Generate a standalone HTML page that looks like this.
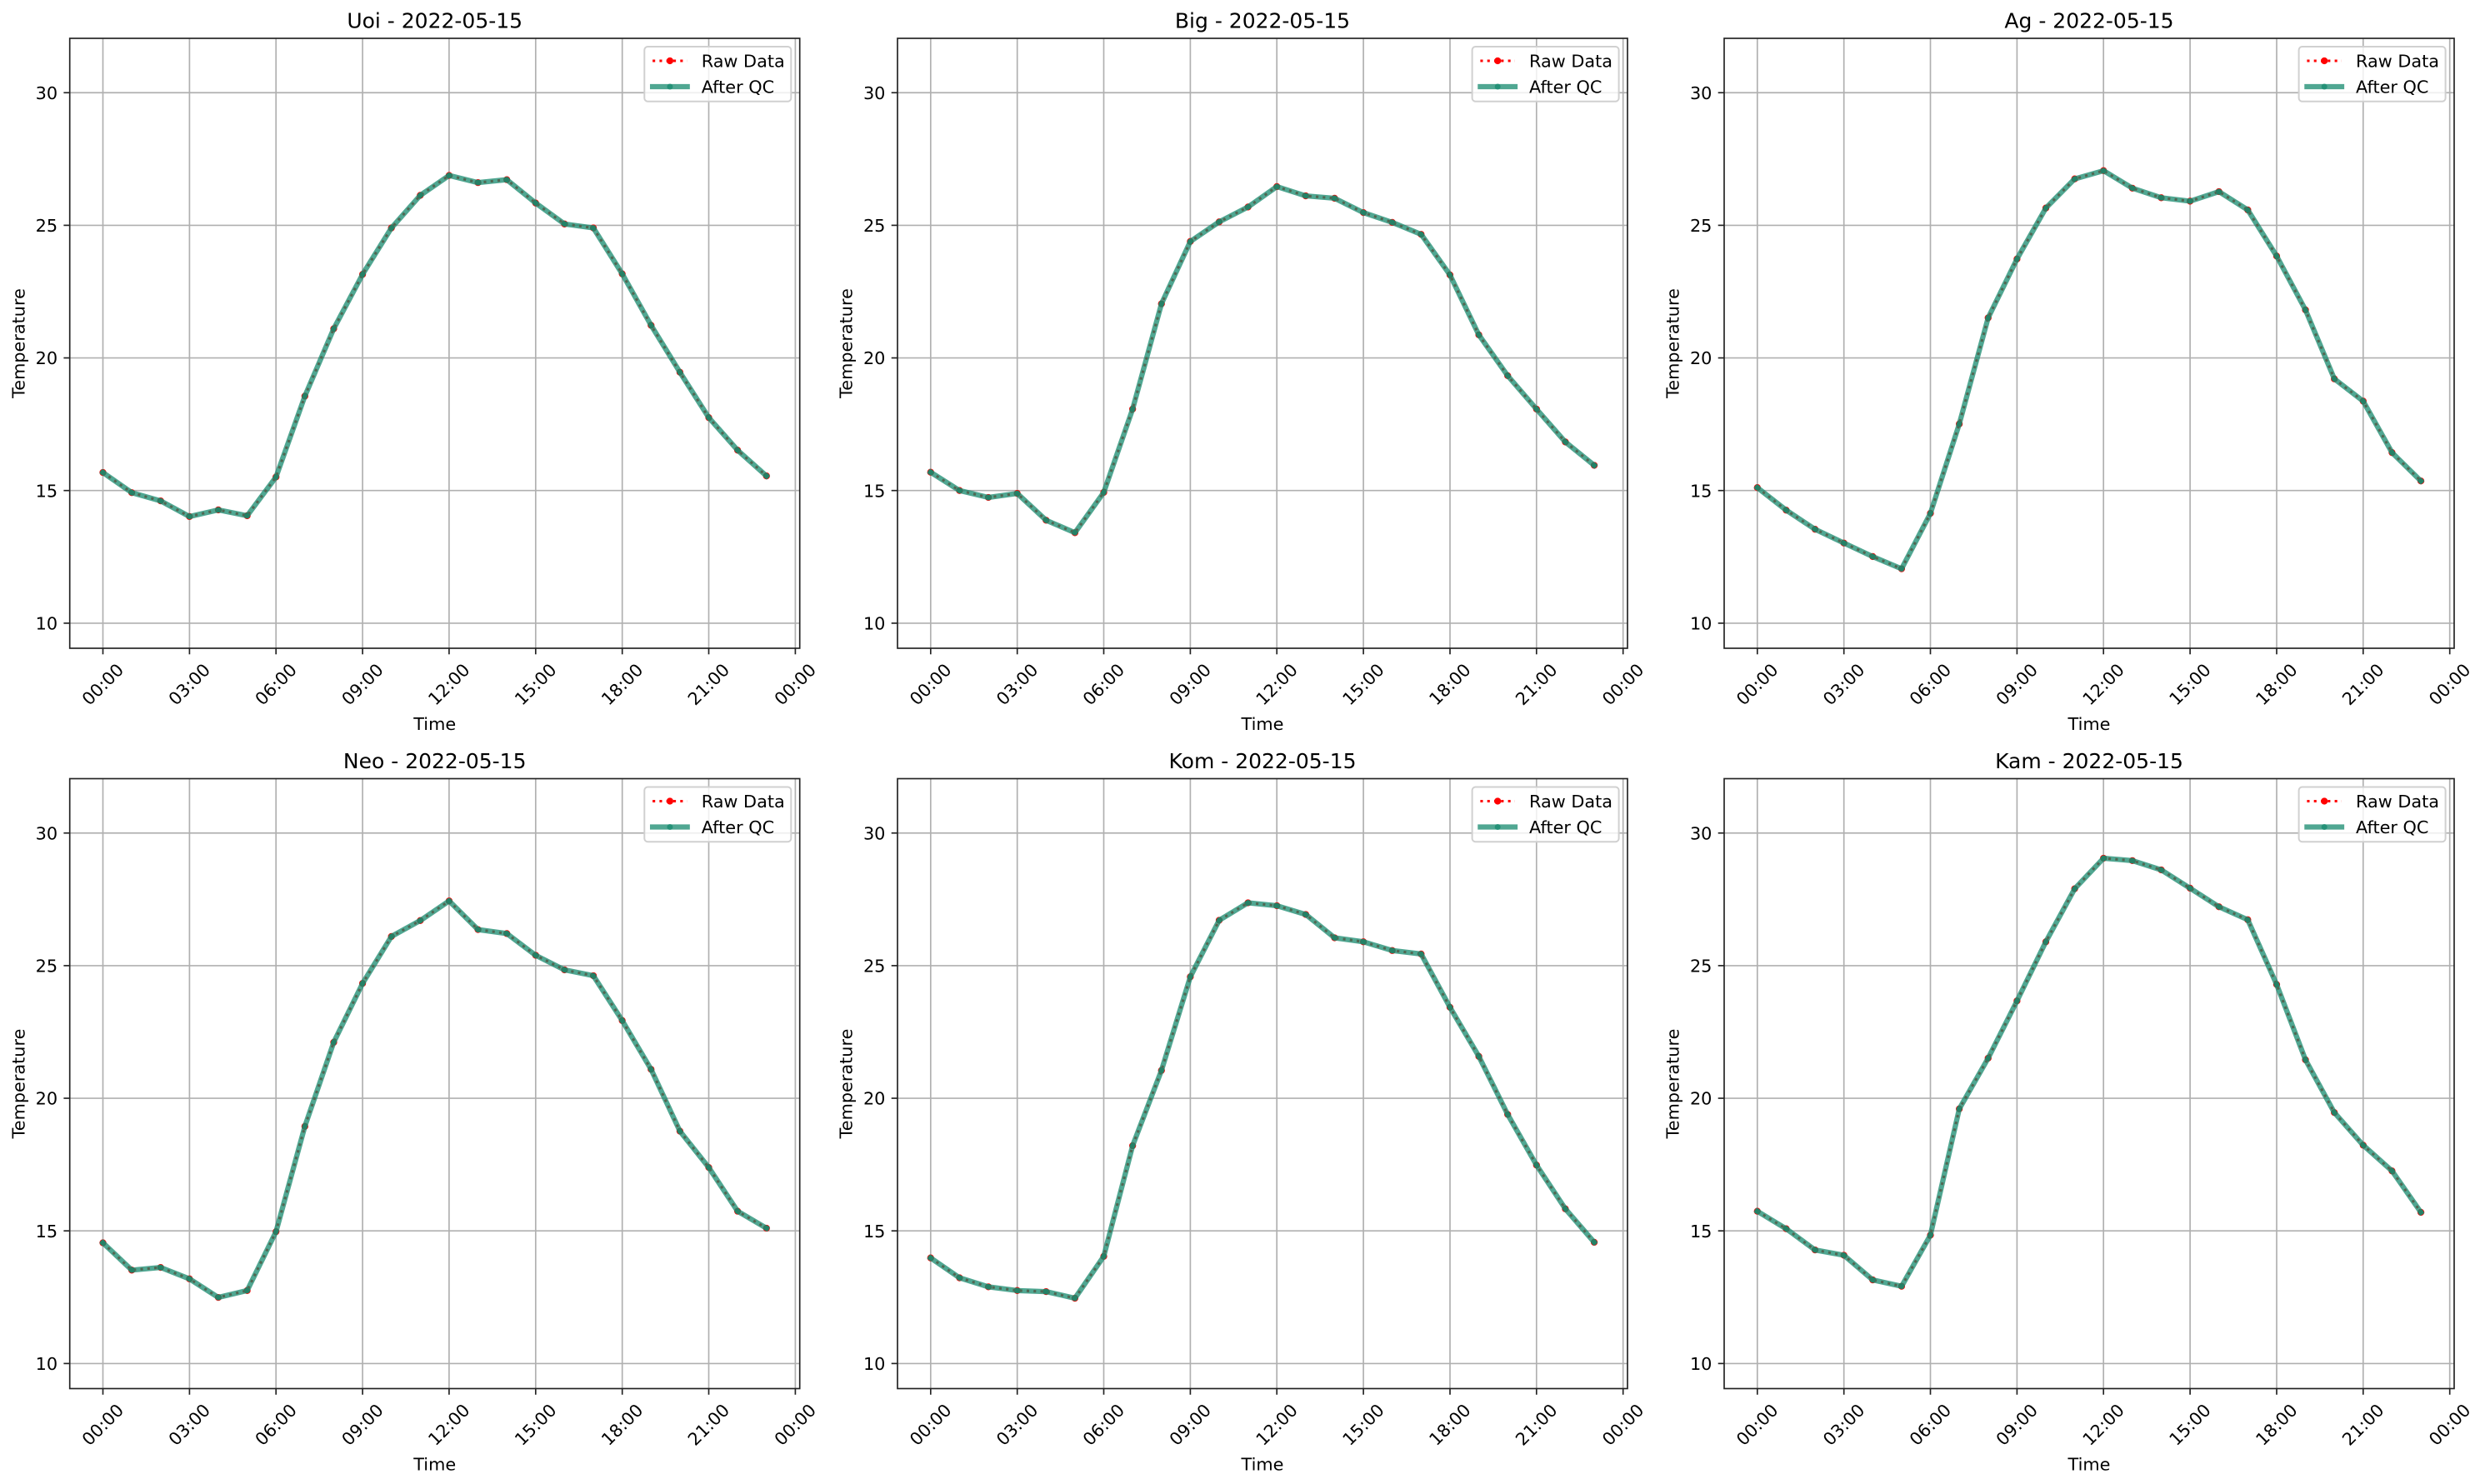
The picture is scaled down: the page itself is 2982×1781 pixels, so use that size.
<!DOCTYPE html>
<html>
<head>
<meta charset="utf-8">
<style>
  html, body { margin: 0; padding: 0; background: #ffffff; }
  svg { display: block; }
  text { font-family: "DejaVu Sans", "Liberation Sans", sans-serif; fill: #000; }
  .grid line { stroke: #b0b0b0; stroke-width: 1.67; }
  .spine { fill: none; stroke: #222; stroke-width: 1.67; }
  .tick line { stroke: #222; stroke-width: 1.67; }
  .raw { fill: none; stroke: #ff0000; stroke-width: 3.1; stroke-dasharray: 3.1 5.2; vector-effect: non-scaling-stroke; }
  .rawm { fill: none; stroke: #ff0000; stroke-width: 8.3; stroke-linecap: round; vector-effect: non-scaling-stroke; }
  .qc { fill: none; stroke: #168a6e; stroke-opacity: .75; stroke-width: 6.25; stroke-linejoin: round; stroke-linecap: square; vector-effect: non-scaling-stroke; }
  .qcm { fill: none; stroke: #168a6e; stroke-opacity: .75; stroke-width: 7; stroke-linecap: round; vector-effect: non-scaling-stroke; }
  .title { font-size: 25px; text-anchor: middle; }
  .yt { font-size: 20.8px; text-anchor: end; }
  .xt { font-size: 20.8px; text-anchor: middle; dominant-baseline: central; }
  .lab { font-size: 20.8px; text-anchor: middle; }
  .leg { font-size: 20.8px; }
</style>
</head>
<body>
<svg width="2982" height="1781" viewBox="0 0 2982 1781" xmlns="http://www.w3.org/2000/svg">
<defs>
  <g id="grid" class="grid">
    <line x1="39.8" y1="0" x2="39.8" y2="732"/>
    <line x1="143.7" y1="0" x2="143.7" y2="732"/>
    <line x1="247.5" y1="0" x2="247.5" y2="732"/>
    <line x1="351.4" y1="0" x2="351.4" y2="732"/>
    <line x1="455.2" y1="0" x2="455.2" y2="732"/>
    <line x1="559.1" y1="0" x2="559.1" y2="732"/>
    <line x1="663.0" y1="0" x2="663.0" y2="732"/>
    <line x1="766.8" y1="0" x2="766.8" y2="732"/>
    <line x1="870.7" y1="0" x2="870.7" y2="732"/>
    <line x1="0" y1="65.25" x2="876" y2="65.25"/>
    <line x1="0" y1="224.4" x2="876" y2="224.4"/>
    <line x1="0" y1="383.55" x2="876" y2="383.55"/>
    <line x1="0" y1="542.7" x2="876" y2="542.7"/>
    <line x1="0" y1="701.9" x2="876" y2="701.9"/>
  </g>
  <g id="axes">
    <rect class="spine" x="0" y="0" width="876" height="732"/>
    <g class="tick">
      <line x1="39.8" y1="732" x2="39.8" y2="739.3"/>
      <line x1="143.7" y1="732" x2="143.7" y2="739.3"/>
      <line x1="247.5" y1="732" x2="247.5" y2="739.3"/>
      <line x1="351.4" y1="732" x2="351.4" y2="739.3"/>
      <line x1="455.2" y1="732" x2="455.2" y2="739.3"/>
      <line x1="559.1" y1="732" x2="559.1" y2="739.3"/>
      <line x1="663.0" y1="732" x2="663.0" y2="739.3"/>
      <line x1="766.8" y1="732" x2="766.8" y2="739.3"/>
      <line x1="870.7" y1="732" x2="870.7" y2="739.3"/>
      <line x1="-7.3" y1="65.25" x2="0" y2="65.25"/>
      <line x1="-7.3" y1="224.4" x2="0" y2="224.4"/>
      <line x1="-7.3" y1="383.55" x2="0" y2="383.55"/>
      <line x1="-7.3" y1="542.7" x2="0" y2="542.7"/>
      <line x1="-7.3" y1="701.9" x2="0" y2="701.9"/>
    </g>
  </g>
  <g id="legbox">
    <rect x="689.6" y="10" width="176" height="65.7" rx="4" ry="4" fill="#ffffff" fill-opacity="0.8" stroke="#d0d0d0" stroke-width="2"/>
    <line x1="699.4" y1="27" x2="741" y2="27" stroke="#ff0000" stroke-width="3.1" stroke-dasharray="3.1 5.2"/>
    <circle cx="720.2" cy="27" r="4.15" fill="#ff0000"/>
    <line x1="699.4" y1="58" x2="741" y2="58" stroke="#168a6e" stroke-opacity="0.75" stroke-width="6.25" stroke-linecap="square"/>
    <circle cx="720.2" cy="58" r="3.5" fill="#168a6e" fill-opacity="0.75"/>
  </g>
</defs>

<!-- Panel 1: Uoi -->
<g transform="translate(83.7,46)">
  <use href="#grid"/>
  <g transform="translate(39.8,0) scale(34.62,-31.83) translate(0,-32.05)">
    <polyline class="raw" points="0,15.68 1,14.92 2,14.61 3,14.02 4,14.27 5,14.05 6,15.51 7,18.56 8,21.10 9,23.15 10,24.90 11,26.13 12,26.88 13,26.61 14,26.72 15,25.84 16,25.05 17,24.90 18,23.17 19,21.23 20,19.46 21,17.75 22,16.52 23,15.55"/>
    <path class="rawm" d="M0 15.68h0M1 14.92h0M2 14.61h0M3 14.02h0M4 14.27h0M5 14.05h0M6 15.51h0M7 18.56h0M8 21.10h0M9 23.15h0M10 24.90h0M11 26.13h0M12 26.88h0M13 26.61h0M14 26.72h0M15 25.84h0M16 25.05h0M17 24.90h0M18 23.17h0M19 21.23h0M20 19.46h0M21 17.75h0M22 16.52h0M23 15.55h0"/>
    <polyline class="qc" points="0,15.68 1,14.92 2,14.61 3,14.02 4,14.27 5,14.05 6,15.51 7,18.56 8,21.10 9,23.15 10,24.90 11,26.13 12,26.88 13,26.61 14,26.72 15,25.84 16,25.05 17,24.90 18,23.17 19,21.23 20,19.46 21,17.75 22,16.52 23,15.55"/>
    <path class="qcm" d="M0 15.68h0M1 14.92h0M2 14.61h0M3 14.02h0M4 14.27h0M5 14.05h0M6 15.51h0M7 18.56h0M8 21.10h0M9 23.15h0M10 24.90h0M11 26.13h0M12 26.88h0M13 26.61h0M14 26.72h0M15 25.84h0M16 25.05h0M17 24.90h0M18 23.17h0M19 21.23h0M20 19.46h0M21 17.75h0M22 16.52h0M23 15.55h0"/>
  </g>
  <use href="#axes"/>
  <use href="#legbox"/>
  <text class="leg" x="758" y="34.7">Raw Data</text>
  <text class="leg" x="758" y="65.5">After QC</text>
  <text class="title" x="438" y="-12.5">Uoi - 2022-05-15</text>
  <text class="yt" x="-14.6" y="72.85">30</text>
  <text class="yt" x="-14.6" y="232">25</text>
  <text class="yt" x="-14.6" y="391.15">20</text>
  <text class="yt" x="-14.6" y="550.3">15</text>
  <text class="yt" x="-14.6" y="709.5">10</text>
  <text class="xt" transform="translate(39.8,775.5) rotate(-45)">00:00</text>
  <text class="xt" transform="translate(143.7,775.5) rotate(-45)">03:00</text>
  <text class="xt" transform="translate(247.5,775.5) rotate(-45)">06:00</text>
  <text class="xt" transform="translate(351.4,775.5) rotate(-45)">09:00</text>
  <text class="xt" transform="translate(455.2,775.5) rotate(-45)">12:00</text>
  <text class="xt" transform="translate(559.1,775.5) rotate(-45)">15:00</text>
  <text class="xt" transform="translate(663.0,775.5) rotate(-45)">18:00</text>
  <text class="xt" transform="translate(766.8,775.5) rotate(-45)">21:00</text>
  <text class="xt" transform="translate(870.7,775.5) rotate(-45)">00:00</text>
  <text class="lab" x="438" y="830">Time</text>
  <text class="lab" transform="translate(-54.4,366) rotate(-90)">Temperature</text>
</g>

<!-- Panel 2: Big -->
<g transform="translate(1077,46)">
  <use href="#grid"/>
  <g transform="translate(39.8,0) scale(34.62,-31.83) translate(0,-32.05)">
    <polyline class="raw" points="0,15.69 1,15.00 2,14.74 3,14.89 4,13.88 5,13.41 6,14.93 7,18.07 8,22.04 9,24.39 10,25.13 11,25.69 12,26.46 13,26.11 14,26.02 15,25.48 16,25.11 17,24.66 18,23.13 19,20.87 20,19.33 21,18.07 22,16.83 23,15.95"/>
    <path class="rawm" d="M0 15.69h0M1 15.00h0M2 14.74h0M3 14.89h0M4 13.88h0M5 13.41h0M6 14.93h0M7 18.07h0M8 22.04h0M9 24.39h0M10 25.13h0M11 25.69h0M12 26.46h0M13 26.11h0M14 26.02h0M15 25.48h0M16 25.11h0M17 24.66h0M18 23.13h0M19 20.87h0M20 19.33h0M21 18.07h0M22 16.83h0M23 15.95h0"/>
    <polyline class="qc" points="0,15.69 1,15.00 2,14.74 3,14.89 4,13.88 5,13.41 6,14.93 7,18.07 8,22.04 9,24.39 10,25.13 11,25.69 12,26.46 13,26.11 14,26.02 15,25.48 16,25.11 17,24.66 18,23.13 19,20.87 20,19.33 21,18.07 22,16.83 23,15.95"/>
    <path class="qcm" d="M0 15.69h0M1 15.00h0M2 14.74h0M3 14.89h0M4 13.88h0M5 13.41h0M6 14.93h0M7 18.07h0M8 22.04h0M9 24.39h0M10 25.13h0M11 25.69h0M12 26.46h0M13 26.11h0M14 26.02h0M15 25.48h0M16 25.11h0M17 24.66h0M18 23.13h0M19 20.87h0M20 19.33h0M21 18.07h0M22 16.83h0M23 15.95h0"/>
  </g>
  <use href="#axes"/>
  <use href="#legbox"/>
  <text class="leg" x="758" y="34.7">Raw Data</text>
  <text class="leg" x="758" y="65.5">After QC</text>
  <text class="title" x="438" y="-12.5">Big - 2022-05-15</text>
  <text class="yt" x="-14.6" y="72.85">30</text>
  <text class="yt" x="-14.6" y="232">25</text>
  <text class="yt" x="-14.6" y="391.15">20</text>
  <text class="yt" x="-14.6" y="550.3">15</text>
  <text class="yt" x="-14.6" y="709.5">10</text>
  <text class="xt" transform="translate(39.8,775.5) rotate(-45)">00:00</text>
  <text class="xt" transform="translate(143.7,775.5) rotate(-45)">03:00</text>
  <text class="xt" transform="translate(247.5,775.5) rotate(-45)">06:00</text>
  <text class="xt" transform="translate(351.4,775.5) rotate(-45)">09:00</text>
  <text class="xt" transform="translate(455.2,775.5) rotate(-45)">12:00</text>
  <text class="xt" transform="translate(559.1,775.5) rotate(-45)">15:00</text>
  <text class="xt" transform="translate(663.0,775.5) rotate(-45)">18:00</text>
  <text class="xt" transform="translate(766.8,775.5) rotate(-45)">21:00</text>
  <text class="xt" transform="translate(870.7,775.5) rotate(-45)">00:00</text>
  <text class="lab" x="438" y="830">Time</text>
  <text class="lab" transform="translate(-54.4,366) rotate(-90)">Temperature</text>
</g>

<!-- Panel 3: Ag -->
<g transform="translate(2069,46)">
  <use href="#grid"/>
  <g transform="translate(39.8,0) scale(34.62,-31.83) translate(0,-32.05)">
    <polyline class="raw" points="0,15.11 1,14.26 2,13.54 3,13.02 4,12.51 5,12.05 6,14.14 7,17.51 8,21.51 9,23.73 10,25.65 11,26.75 12,27.06 13,26.40 14,26.04 15,25.91 16,26.27 17,25.58 18,23.84 19,21.81 20,19.21 21,18.37 22,16.43 23,15.36"/>
    <path class="rawm" d="M0 15.11h0M1 14.26h0M2 13.54h0M3 13.02h0M4 12.51h0M5 12.05h0M6 14.14h0M7 17.51h0M8 21.51h0M9 23.73h0M10 25.65h0M11 26.75h0M12 27.06h0M13 26.40h0M14 26.04h0M15 25.91h0M16 26.27h0M17 25.58h0M18 23.84h0M19 21.81h0M20 19.21h0M21 18.37h0M22 16.43h0M23 15.36h0"/>
    <polyline class="qc" points="0,15.11 1,14.26 2,13.54 3,13.02 4,12.51 5,12.05 6,14.14 7,17.51 8,21.51 9,23.73 10,25.65 11,26.75 12,27.06 13,26.40 14,26.04 15,25.91 16,26.27 17,25.58 18,23.84 19,21.81 20,19.21 21,18.37 22,16.43 23,15.36"/>
    <path class="qcm" d="M0 15.11h0M1 14.26h0M2 13.54h0M3 13.02h0M4 12.51h0M5 12.05h0M6 14.14h0M7 17.51h0M8 21.51h0M9 23.73h0M10 25.65h0M11 26.75h0M12 27.06h0M13 26.40h0M14 26.04h0M15 25.91h0M16 26.27h0M17 25.58h0M18 23.84h0M19 21.81h0M20 19.21h0M21 18.37h0M22 16.43h0M23 15.36h0"/>
  </g>
  <use href="#axes"/>
  <use href="#legbox"/>
  <text class="leg" x="758" y="34.7">Raw Data</text>
  <text class="leg" x="758" y="65.5">After QC</text>
  <text class="title" x="438" y="-12.5">Ag - 2022-05-15</text>
  <text class="yt" x="-14.6" y="72.85">30</text>
  <text class="yt" x="-14.6" y="232">25</text>
  <text class="yt" x="-14.6" y="391.15">20</text>
  <text class="yt" x="-14.6" y="550.3">15</text>
  <text class="yt" x="-14.6" y="709.5">10</text>
  <text class="xt" transform="translate(39.8,775.5) rotate(-45)">00:00</text>
  <text class="xt" transform="translate(143.7,775.5) rotate(-45)">03:00</text>
  <text class="xt" transform="translate(247.5,775.5) rotate(-45)">06:00</text>
  <text class="xt" transform="translate(351.4,775.5) rotate(-45)">09:00</text>
  <text class="xt" transform="translate(455.2,775.5) rotate(-45)">12:00</text>
  <text class="xt" transform="translate(559.1,775.5) rotate(-45)">15:00</text>
  <text class="xt" transform="translate(663.0,775.5) rotate(-45)">18:00</text>
  <text class="xt" transform="translate(766.8,775.5) rotate(-45)">21:00</text>
  <text class="xt" transform="translate(870.7,775.5) rotate(-45)">00:00</text>
  <text class="lab" x="438" y="830">Time</text>
  <text class="lab" transform="translate(-54.4,366) rotate(-90)">Temperature</text>
</g>

<!-- Panel 4: Neo -->
<g transform="translate(83.7,934.5)">
  <use href="#grid"/>
  <g transform="translate(39.8,0) scale(34.62,-31.83) translate(0,-32.05)">
    <polyline class="raw" points="0,14.55 1,13.52 2,13.62 3,13.19 4,12.49 5,12.75 6,14.97 7,18.94 8,22.11 9,24.33 10,26.10 11,26.70 12,27.44 13,26.36 14,26.21 15,25.39 16,24.84 17,24.62 18,22.93 19,21.09 20,18.76 21,17.39 22,15.74 23,15.10"/>
    <path class="rawm" d="M0 14.55h0M1 13.52h0M2 13.62h0M3 13.19h0M4 12.49h0M5 12.75h0M6 14.97h0M7 18.94h0M8 22.11h0M9 24.33h0M10 26.10h0M11 26.70h0M12 27.44h0M13 26.36h0M14 26.21h0M15 25.39h0M16 24.84h0M17 24.62h0M18 22.93h0M19 21.09h0M20 18.76h0M21 17.39h0M22 15.74h0M23 15.10h0"/>
    <polyline class="qc" points="0,14.55 1,13.52 2,13.62 3,13.19 4,12.49 5,12.75 6,14.97 7,18.94 8,22.11 9,24.33 10,26.10 11,26.70 12,27.44 13,26.36 14,26.21 15,25.39 16,24.84 17,24.62 18,22.93 19,21.09 20,18.76 21,17.39 22,15.74 23,15.10"/>
    <path class="qcm" d="M0 14.55h0M1 13.52h0M2 13.62h0M3 13.19h0M4 12.49h0M5 12.75h0M6 14.97h0M7 18.94h0M8 22.11h0M9 24.33h0M10 26.10h0M11 26.70h0M12 27.44h0M13 26.36h0M14 26.21h0M15 25.39h0M16 24.84h0M17 24.62h0M18 22.93h0M19 21.09h0M20 18.76h0M21 17.39h0M22 15.74h0M23 15.10h0"/>
  </g>
  <use href="#axes"/>
  <use href="#legbox"/>
  <text class="leg" x="758" y="34.7">Raw Data</text>
  <text class="leg" x="758" y="65.5">After QC</text>
  <text class="title" x="438" y="-12.5">Neo - 2022-05-15</text>
  <text class="yt" x="-14.6" y="72.85">30</text>
  <text class="yt" x="-14.6" y="232">25</text>
  <text class="yt" x="-14.6" y="391.15">20</text>
  <text class="yt" x="-14.6" y="550.3">15</text>
  <text class="yt" x="-14.6" y="709.5">10</text>
  <text class="xt" transform="translate(39.8,775.5) rotate(-45)">00:00</text>
  <text class="xt" transform="translate(143.7,775.5) rotate(-45)">03:00</text>
  <text class="xt" transform="translate(247.5,775.5) rotate(-45)">06:00</text>
  <text class="xt" transform="translate(351.4,775.5) rotate(-45)">09:00</text>
  <text class="xt" transform="translate(455.2,775.5) rotate(-45)">12:00</text>
  <text class="xt" transform="translate(559.1,775.5) rotate(-45)">15:00</text>
  <text class="xt" transform="translate(663.0,775.5) rotate(-45)">18:00</text>
  <text class="xt" transform="translate(766.8,775.5) rotate(-45)">21:00</text>
  <text class="xt" transform="translate(870.7,775.5) rotate(-45)">00:00</text>
  <text class="lab" x="438" y="830">Time</text>
  <text class="lab" transform="translate(-54.4,366) rotate(-90)">Temperature</text>
</g>

<!-- Panel 5: Kom -->
<g transform="translate(1077,934.5)">
  <use href="#grid"/>
  <g transform="translate(39.8,0) scale(34.62,-31.83) translate(0,-32.05)">
    <polyline class="raw" points="0,13.98 1,13.23 2,12.89 3,12.75 4,12.71 5,12.46 6,14.04 7,18.21 8,21.05 9,24.58 10,26.71 11,27.37 12,27.26 13,26.93 14,26.05 15,25.90 16,25.57 17,25.44 18,23.43 19,21.58 20,19.39 21,17.48 22,15.83 23,14.57"/>
    <path class="rawm" d="M0 13.98h0M1 13.23h0M2 12.89h0M3 12.75h0M4 12.71h0M5 12.46h0M6 14.04h0M7 18.21h0M8 21.05h0M9 24.58h0M10 26.71h0M11 27.37h0M12 27.26h0M13 26.93h0M14 26.05h0M15 25.90h0M16 25.57h0M17 25.44h0M18 23.43h0M19 21.58h0M20 19.39h0M21 17.48h0M22 15.83h0M23 14.57h0"/>
    <polyline class="qc" points="0,13.98 1,13.23 2,12.89 3,12.75 4,12.71 5,12.46 6,14.04 7,18.21 8,21.05 9,24.58 10,26.71 11,27.37 12,27.26 13,26.93 14,26.05 15,25.90 16,25.57 17,25.44 18,23.43 19,21.58 20,19.39 21,17.48 22,15.83 23,14.57"/>
    <path class="qcm" d="M0 13.98h0M1 13.23h0M2 12.89h0M3 12.75h0M4 12.71h0M5 12.46h0M6 14.04h0M7 18.21h0M8 21.05h0M9 24.58h0M10 26.71h0M11 27.37h0M12 27.26h0M13 26.93h0M14 26.05h0M15 25.90h0M16 25.57h0M17 25.44h0M18 23.43h0M19 21.58h0M20 19.39h0M21 17.48h0M22 15.83h0M23 14.57h0"/>
  </g>
  <use href="#axes"/>
  <use href="#legbox"/>
  <text class="leg" x="758" y="34.7">Raw Data</text>
  <text class="leg" x="758" y="65.5">After QC</text>
  <text class="title" x="438" y="-12.5">Kom - 2022-05-15</text>
  <text class="yt" x="-14.6" y="72.85">30</text>
  <text class="yt" x="-14.6" y="232">25</text>
  <text class="yt" x="-14.6" y="391.15">20</text>
  <text class="yt" x="-14.6" y="550.3">15</text>
  <text class="yt" x="-14.6" y="709.5">10</text>
  <text class="xt" transform="translate(39.8,775.5) rotate(-45)">00:00</text>
  <text class="xt" transform="translate(143.7,775.5) rotate(-45)">03:00</text>
  <text class="xt" transform="translate(247.5,775.5) rotate(-45)">06:00</text>
  <text class="xt" transform="translate(351.4,775.5) rotate(-45)">09:00</text>
  <text class="xt" transform="translate(455.2,775.5) rotate(-45)">12:00</text>
  <text class="xt" transform="translate(559.1,775.5) rotate(-45)">15:00</text>
  <text class="xt" transform="translate(663.0,775.5) rotate(-45)">18:00</text>
  <text class="xt" transform="translate(766.8,775.5) rotate(-45)">21:00</text>
  <text class="xt" transform="translate(870.7,775.5) rotate(-45)">00:00</text>
  <text class="lab" x="438" y="830">Time</text>
  <text class="lab" transform="translate(-54.4,366) rotate(-90)">Temperature</text>
</g>

<!-- Panel 6: Kam -->
<g transform="translate(2069,934.5)">
  <use href="#grid"/>
  <g transform="translate(39.8,0) scale(34.62,-31.83) translate(0,-32.05)">
    <polyline class="raw" points="0,15.74 1,15.08 2,14.28 3,14.08 4,13.15 5,12.91 6,14.84 7,19.60 8,21.51 9,23.67 10,25.90 11,27.90 12,29.05 13,28.96 14,28.61 15,27.92 16,27.22 17,26.73 18,24.29 19,21.45 20,19.46 21,18.23 22,17.26 23,15.70"/>
    <path class="rawm" d="M0 15.74h0M1 15.08h0M2 14.28h0M3 14.08h0M4 13.15h0M5 12.91h0M6 14.84h0M7 19.60h0M8 21.51h0M9 23.67h0M10 25.90h0M11 27.90h0M12 29.05h0M13 28.96h0M14 28.61h0M15 27.92h0M16 27.22h0M17 26.73h0M18 24.29h0M19 21.45h0M20 19.46h0M21 18.23h0M22 17.26h0M23 15.70h0"/>
    <polyline class="qc" points="0,15.74 1,15.08 2,14.28 3,14.08 4,13.15 5,12.91 6,14.84 7,19.60 8,21.51 9,23.67 10,25.90 11,27.90 12,29.05 13,28.96 14,28.61 15,27.92 16,27.22 17,26.73 18,24.29 19,21.45 20,19.46 21,18.23 22,17.26 23,15.70"/>
    <path class="qcm" d="M0 15.74h0M1 15.08h0M2 14.28h0M3 14.08h0M4 13.15h0M5 12.91h0M6 14.84h0M7 19.60h0M8 21.51h0M9 23.67h0M10 25.90h0M11 27.90h0M12 29.05h0M13 28.96h0M14 28.61h0M15 27.92h0M16 27.22h0M17 26.73h0M18 24.29h0M19 21.45h0M20 19.46h0M21 18.23h0M22 17.26h0M23 15.70h0"/>
  </g>
  <use href="#axes"/>
  <use href="#legbox"/>
  <text class="leg" x="758" y="34.7">Raw Data</text>
  <text class="leg" x="758" y="65.5">After QC</text>
  <text class="title" x="438" y="-12.5">Kam - 2022-05-15</text>
  <text class="yt" x="-14.6" y="72.85">30</text>
  <text class="yt" x="-14.6" y="232">25</text>
  <text class="yt" x="-14.6" y="391.15">20</text>
  <text class="yt" x="-14.6" y="550.3">15</text>
  <text class="yt" x="-14.6" y="709.5">10</text>
  <text class="xt" transform="translate(39.8,775.5) rotate(-45)">00:00</text>
  <text class="xt" transform="translate(143.7,775.5) rotate(-45)">03:00</text>
  <text class="xt" transform="translate(247.5,775.5) rotate(-45)">06:00</text>
  <text class="xt" transform="translate(351.4,775.5) rotate(-45)">09:00</text>
  <text class="xt" transform="translate(455.2,775.5) rotate(-45)">12:00</text>
  <text class="xt" transform="translate(559.1,775.5) rotate(-45)">15:00</text>
  <text class="xt" transform="translate(663.0,775.5) rotate(-45)">18:00</text>
  <text class="xt" transform="translate(766.8,775.5) rotate(-45)">21:00</text>
  <text class="xt" transform="translate(870.7,775.5) rotate(-45)">00:00</text>
  <text class="lab" x="438" y="830">Time</text>
  <text class="lab" transform="translate(-54.4,366) rotate(-90)">Temperature</text>
</g>
</svg>
</body>
</html>
